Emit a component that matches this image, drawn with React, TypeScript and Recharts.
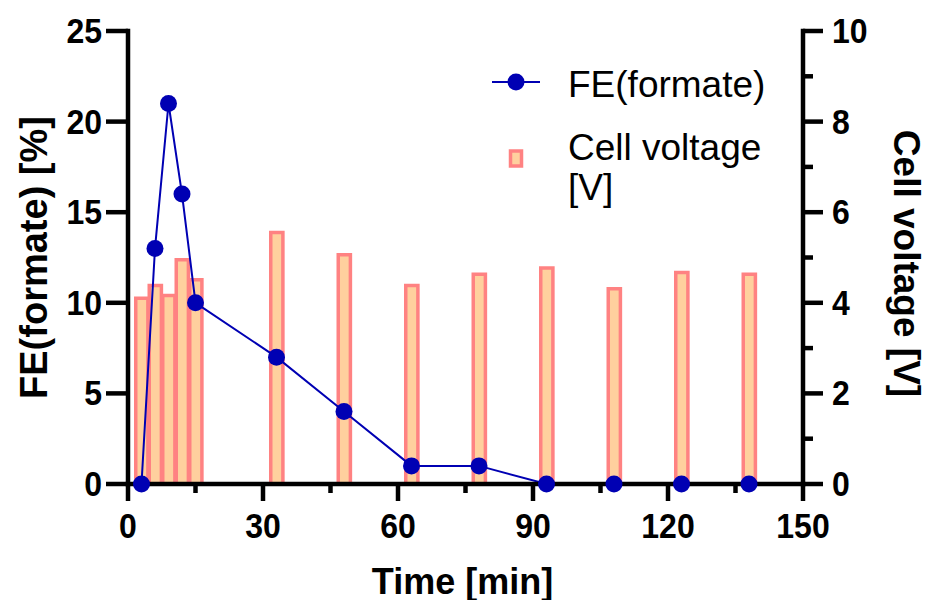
import React from 'react';
import { ComposedChart, Bar, Line, XAxis, YAxis, Legend, Label } from 'recharts';

// Sampling times and measured values
const timeMin = [3, 6, 9, 12, 15, 33, 48, 63, 78, 93, 108, 123, 138];
const feFormate = [0, 13, 21, 16, 10, 7, 4, 1, 1, 0, 0, 0, 0];
const cellVoltage = [4.1, 4.38, 4.16, 4.95, 4.51, 5.55, 5.06, 4.38, 4.63, 4.77, 4.31, 4.67, 4.63];

const timeTicks = [0, 15, 30, 45, 60, 75, 90, 105, 120, 135, 150];
const feTicks = [0, 5, 10, 15, 20, 25];
const voltageTicks = [0, 1, 2, 3, 4, 5, 6, 7, 8, 9, 10];

const FONT = '"Liberation Sans", Arial, Helvetica, sans-serif';
const BLUE = '#0000B3';
const BAR_FILL = '#FFD09E';
const BAR_STROKE = '#FF8282';
const AXIS_W = 4.5;

const data = timeMin.map((t, i) => ({ time: t, fe: feFormate[i], voltage: cellVoltage[i] }));

// tick numbers are drawn a little taller than wide
const TickText = ({ x, y, anchor, children }: any) => (
  <text transform={`translate(${x}, ${y}) scale(1, 1.08)`} textAnchor={anchor}
    dominantBaseline="central" fontFamily={FONT} fontWeight="bold" fontSize={32} fill="#000">
    {children}
  </text>
);

const TimeTick = (props: any) => {
  const { x, y, payload } = props;
  const major = payload.value % 30 === 0;
  return (
    <g>
      <line x1={x} x2={x} y1={y} y2={y + (major ? 17 : 9)} stroke="#000" strokeWidth={AXIS_W} />
      {major && <TickText x={x} y={y + 42} anchor="middle">{payload.value}</TickText>}
    </g>
  );
};

const FeTick = (props: any) => {
  const { x, y, payload } = props;
  return (
    <g>
      <line x1={x} x2={x - 22} y1={y} y2={y} stroke="#000" strokeWidth={AXIS_W} />
      <TickText x={x - 26} y={y} anchor="end">{payload.value}</TickText>
    </g>
  );
};

const VoltageTick = (props: any) => {
  const { x, y, payload } = props;
  const major = payload.value % 2 === 0;
  return (
    <g>
      <line x1={x} x2={x + (major ? 20 : 10)} y1={y} y2={y} stroke="#000" strokeWidth={AXIS_W} />
      {major && <TickText x={x + 29} y={y} anchor="start">{payload.value}</TickText>}
    </g>
  );
};

const titleStyle = { fontFamily: FONT, fontWeight: 'bold' as const, fill: '#000' };

const TimeTitle = ({ viewBox }: any) => (
  <text x={viewBox.x + viewBox.width / 2 - 3} y={viewBox.y + 97} textAnchor="middle"
    dominantBaseline="central" fontSize={36} style={titleStyle}>
    Time [min]
  </text>
);

const FeTitle = ({ viewBox }: any) => {
  const cx = viewBox.x + 34;
  const cy = viewBox.y + viewBox.height / 2;
  return (
    <text x={cx} y={cy} transform={`rotate(-90, ${cx}, ${cy})`} textAnchor="middle"
      dominantBaseline="central" fontSize={38} style={titleStyle}>
      FE(formate) [%]
    </text>
  );
};

const VoltageTitle = ({ viewBox }: any) => {
  const cx = viewBox.x + 103;
  const cy = viewBox.y + viewBox.height / 2 + 6;
  return (
    <text x={cx} y={cy} transform={`rotate(90, ${cx}, ${cy})`} textAnchor="middle"
      dominantBaseline="central" fontSize={37} style={titleStyle}>
      Cell voltage [V]
    </text>
  );
};

const LegendBox = () => (
  <svg width={330} height={150} style={{ display: 'block', overflow: 'visible' }}>
    <line x1={12} x2={60} y1={22} y2={22} stroke={BLUE} strokeWidth={2} />
    <circle cx={36} cy={22} r={8.5} fill={BLUE} />
    <text x={88} y={24} dominantBaseline="central" fontFamily={FONT} fontSize={37} fill="#000">
      FE(formate)
    </text>
    <rect x={30.5} y={91} width={11} height={15} fill={BAR_FILL} stroke={BAR_STROKE} strokeWidth={3.5} />
    <text x={88} y={87} dominantBaseline="central" fontFamily={FONT} fontSize={37} fill="#000">
      Cell voltage
    </text>
    <text x={88} y={127} dominantBaseline="central" fontFamily={FONT} fontSize={37} fill="#000">
      [V]
    </text>
  </svg>
);

export default function App() {
  return (
    <div style={{ position: 'absolute', left: 0, top: 0, width: 930, height: 600, background: '#fff' }}>
      <ComposedChart width={930} height={600} data={data}
        margin={{ top: 31, right: 0, bottom: 0, left: 0 }}>
        <XAxis dataKey="time" type="number" domain={[0, 150]} ticks={timeTicks} interval={0}
          height={116} tickSize={0} tickMargin={0} tickLine={false} tick={<TimeTick />}
          axisLine={{ stroke: '#000', strokeWidth: AXIS_W, strokeLinecap: 'square' }}>
          <Label content={<TimeTitle />} />
        </XAxis>
        <YAxis yAxisId="left" orientation="left" domain={[0, 25]} ticks={feTicks} interval={0}
          width={128} tickSize={0} tickMargin={0} tickLine={false} tick={<FeTick />}
          axisLine={{ stroke: '#000', strokeWidth: AXIS_W, strokeLinecap: 'square' }}>
          <Label content={<FeTitle />} />
        </YAxis>
        <YAxis yAxisId="right" orientation="right" domain={[0, 10]} ticks={voltageTicks} interval={0}
          width={127} tickSize={0} tickMargin={0} tickLine={false} tick={<VoltageTick />}
          axisLine={{ stroke: '#000', strokeWidth: AXIS_W, strokeLinecap: 'square' }}>
          <Label content={<VoltageTitle />} />
        </YAxis>
        <Legend layout="horizontal" verticalAlign="middle" align="center" content={<LegendBox />}
          wrapperStyle={{ left: 480, top: 60, width: 330, height: 150 }} />
        <Bar dataKey="voltage" yAxisId="right" name="Cell voltage [V]" barSize={14}
          fill={BAR_FILL} stroke={BAR_STROKE} strokeWidth={3.5} isAnimationActive={false} />
        <Line dataKey="fe" yAxisId="left" name="FE(formate)" type="linear" stroke={BLUE}
          strokeWidth={2} dot={{ r: 8.5, fill: BLUE, stroke: BLUE, strokeWidth: 0 }}
          activeDot={false} isAnimationActive={false} />
      </ComposedChart>
    </div>
  );
}
